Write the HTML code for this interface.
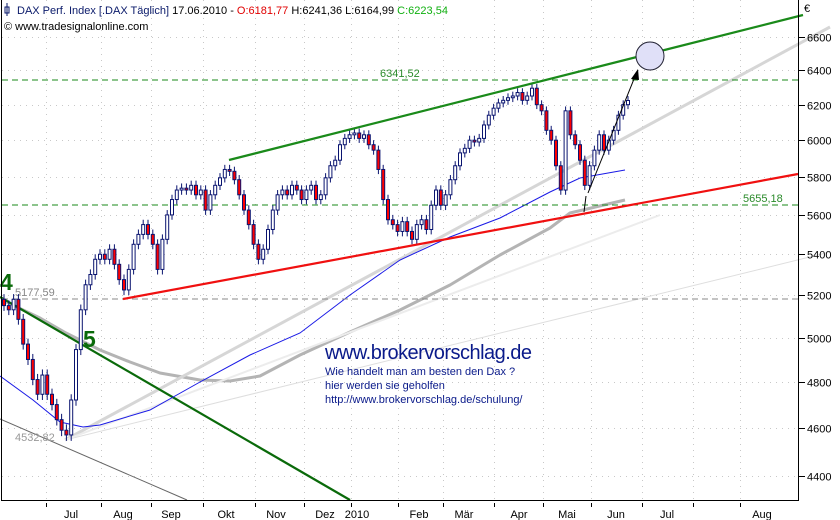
<!DOCTYPE html>
<html><head><meta charset="utf-8"><style>
html,body{margin:0;padding:0;background:#fff;}
svg{display:block;font-family:"Liberation Sans",Arial,sans-serif;}
</style></head><body>
<svg id="chart" width="840" height="520" viewBox="0 0 840 520">
<g id="grid"></g>
<polyline fill="none" stroke="#b4b4b4" stroke-width="3" stroke-linejoin="round" points="2,300 40,318 66,333 100,350 130,362 160,373 200,380 230,381 260,376 300,355 350,332 400,310 450,285 500,255 550,228 570,213 625,200"/>
<line x1="65" y1="440" x2="830" y2="27" stroke="#d6d6d6" stroke-width="3"/>
<line x1="65" y1="440" x2="830" y2="252" stroke="#dedede" stroke-width="1"/>
<line x1="65" y1="440" x2="660" y2="215" stroke="#ececec" stroke-width="2"/>
<line x1="0" y1="419" x2="187" y2="500" stroke="#666" stroke-width="1"/>
<line x1="0" y1="297" x2="350" y2="500" stroke="#0a6a0a" stroke-width="2.2"/>
<polyline fill="none" stroke="#1a1ae6" stroke-width="1" points="0,376 33,400 60,422 83,427 100,425 150,410 200,382 250,355 300,333 350,295 400,260 450,237 500,218 550,192 580,178 625,170"/>
<line x1="2" y1="80" x2="798" y2="80" stroke="#1a8a1a" stroke-dasharray="6,4" stroke-width="1"/>
<line x1="2" y1="205" x2="798" y2="205" stroke="#1a8a1a" stroke-dasharray="6,4" stroke-width="1"/>
<line x1="2" y1="299" x2="798" y2="299" stroke="#888" stroke-dasharray="6,4" stroke-width="1"/>
<text x="380" y="77" font-size="11" fill="#2a8a2a">6341,52</text>
<text x="743" y="202" font-size="11" fill="#2a8a2a">5655,18</text>
<text x="15" y="296" font-size="11" fill="#888">5177,59</text>
<text x="15" y="441" font-size="11" fill="#999">4532,82</text>
<g id="candles"></g>
<line x1="229" y1="160" x2="803" y2="15" stroke="#1a8a1a" stroke-width="2.2"/>
<line x1="123" y1="299" x2="798" y2="174" stroke="#f01010" stroke-width="2.2"/>
<line x1="588" y1="193" x2="636" y2="74" stroke="#000" stroke-width="1"/>
<polygon points="638,69 631,79 639,80" fill="#000"/>
<line x1="584" y1="212" x2="586" y2="196" stroke="#000" stroke-width="1"/>
<circle cx="650" cy="56" r="14" fill="#e0e0f8" stroke="#223" stroke-width="1"/>
<text x="0" y="290" font-size="23" font-weight="bold" fill="#0a6a0a">4</text>
<text x="83" y="347" font-size="23" font-weight="bold" fill="#0a6a0a">5</text>
<text x="325" y="359" font-size="20" fill="#0a1a8a" textLength="207">www.brokervorschlag.de</text>
<text x="325" y="375" font-size="11" fill="#0a1a8a">Wie handelt man am besten  den Dax ?</text>
<text x="325" y="389" font-size="11" fill="#0a1a8a">hier werden sie geholfen</text>
<text x="325" y="403" font-size="11" fill="#0a1a8a">http://www.brokervorschlag.de/schulung/</text>
<line x1="1.5" y1="0" x2="1.5" y2="500" stroke="#000"/>
<line x1="1" y1="500.5" x2="799" y2="500.5" stroke="#000"/>
<line x1="798.5" y1="0" x2="798.5" y2="501" stroke="#000"/>
<g id="axes"></g>
<text x="804" y="12" font-size="11" fill="#000">€</text>
<g>
<rect x="5" y="7" width="4" height="6" fill="none" stroke="#0a1a6a"/>
<line x1="7" y1="3" x2="7" y2="16" stroke="#0a1a6a"/>
<text x="17" y="14" font-size="11"><tspan fill="#0a1a6a">DAX Perf. Index [.DAX  Täglich]</tspan><tspan fill="#000"> 17.06.2010 - </tspan><tspan fill="#e00000">O:6181,77</tspan><tspan fill="#000"> H:6241,36 L:6164,99 </tspan><tspan fill="#10b010">C:6223,54</tspan></text>
<text x="4" y="30" font-size="11" fill="#000">© www.tradesignalonline.com</text>
</g>
</svg>
<script>
const closes=[5150,5130,5180,5085,4970,4900,4810,4745,4830,4745,4700,4635,4590,4570,4720,4945,5130,5250,5300,5375,5400,5375,5425,5350,5275,5225,5325,5450,5500,5550,5500,5450,5325,5475,5600,5680,5730,5740,5730,5755,5705,5730,5625,5705,5755,5795,5840,5830,5785,5705,5625,5550,5450,5375,5425,5525,5625,5705,5730,5705,5755,5730,5680,5730,5755,5680,5705,5795,5860,5890,5975,6010,6030,6040,6010,6030,5975,5945,5840,5680,5575,5550,5515,5565,5515,5475,5550,5575,5525,5650,5730,5650,5705,5785,5860,5930,5955,6000,5990,6010,6085,6140,6180,6210,6225,6240,6250,6270,6225,6250,6295,6200,6165,6055,6000,5860,5730,6165,6030,5975,5890,5755,5860,5945,6030,5945,6000,6055,6140,6200,6224];
const firstOpen=5180;
const yTicks=[4400,4600,4800,5000,5200,5400,5600,5800,6000,6200,6400,6600];
const monthLabels=["Jul","Aug","Sep","Okt","Nov","Dez","2010","Feb","Mär","Apr","Mai","Jun","Jul","Aug"];
const monthLabelX=[71,123,171,226,276,325,357,419,464,519,567,616,667,762];
const monthTickX=[46,101,151,203,255,304,351,398,443,494,543,591,642,693,740];
const NS="http://www.w3.org/2000/svg";
function yOf(v){return 37+(Math.log(6600)-Math.log(v))*1082.7;}
function xOf(i){return 4+4.8*i;}
function mk(t,a,p){const e=document.createElementNS(NS,t);for(const k in a)e.setAttribute(k,a[k]);p.appendChild(e);return e;}
const grid=document.getElementById('grid'),axes=document.getElementById('axes'),cg=document.getElementById('candles');
yTicks.forEach(v=>{const y=Math.round(yOf(v))+0.5;
 const g=mk('line',{x1:2,y1:y,x2:798,y2:y,stroke:'#c8c8c8','stroke-dasharray':'1,5'},grid);
 
 
 const t=mk('line',{x1:799,y1:y,x2:805,y2:y,stroke:'#000'},axes);
 
 
 const l=mk('text',{x:807,y:y+4,'font-size':11,fill:'#000'},axes);l.textContent=v;
 
 
});
monthTickX.forEach(x=>{
 const g=mk('line',{x1:x+0.5,y1:0,x2:x+0.5,y2:500,stroke:'#c8c8c8','stroke-dasharray':'1,5'},grid);
 
 
 const t=mk('line',{x1:x+0.5,y1:503,x2:x+0.5,y2:507,stroke:'#000'},axes);
 
 
});
monthLabels.forEach((m,i)=>{const l=mk('text',{x:monthLabelX[i],y:518,'font-size':11,'text-anchor':'middle',fill:'#000'},axes);l.textContent=m;
 
 
});
closes.forEach((c,i)=>{
 const o=i===0?firstOpen:closes[i-1];
 const hi=Math.max(o,c)+25,lo=Math.min(o,c)-25;
 const x=xOf(i);
 const w=mk('line',{x1:x,y1:yOf(hi),x2:x,y2:yOf(lo),stroke:'#0a1470','stroke-width':1},cg);
 
 
 const top=yOf(Math.max(o,c)),bot=yOf(Math.min(o,c));
 const r=mk('rect',{x:x-1.5,y:top,width:3,height:Math.max(1,bot-top),fill:c<o?'#f00':'#fff',stroke:'#0a1470','stroke-width':1},cg);
 
 
});
</script>
</body></html>
